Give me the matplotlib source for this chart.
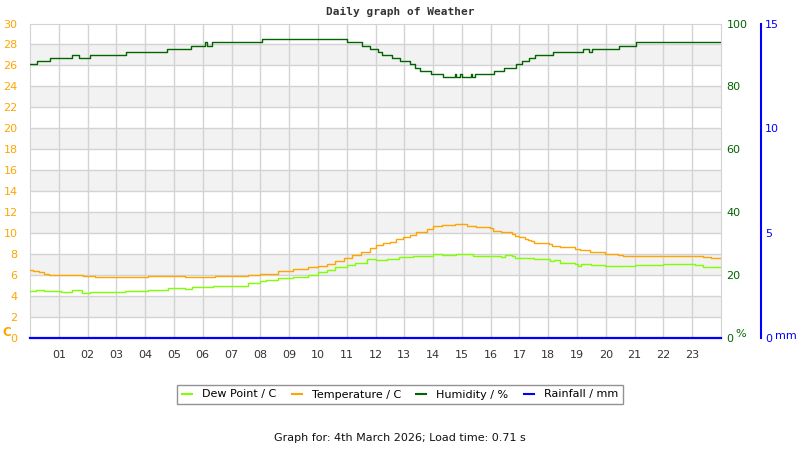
import matplotlib
matplotlib.use("Agg")
import matplotlib.pyplot as plt
from matplotlib.lines import Line2D

# ---- data (hours, values) ----
hum_t = [0, 0.26, 0.68, 1.46, 1.71, 2.09, 3.34, 4.77, 5.58, 6.08, 6.15, 6.33, 8.05,
         11.0, 11.52, 11.8, 12.07, 12.23, 12.56, 12.84, 13.19, 13.37, 13.54, 13.94,
         14.35, 14.75, 14.8, 14.95, 15.0, 15.3, 15.35, 15.44, 16.11, 16.48, 16.89,
         17.1, 17.33, 17.55, 18.17, 19.19, 19.43, 19.53, 20.45, 21.05, 24]
hum_v = [87, 88, 89, 90, 89, 90, 91, 92, 93, 94, 93, 94, 95,
         94, 93, 92, 91, 90, 89, 88, 87, 86, 85, 84,
         83, 84, 83, 84, 83, 84, 83, 84, 85, 86, 87,
         88, 89, 90, 91, 92, 91, 92, 93, 94, 94]

temp_t = [0, 0.1, 0.3, 0.47, 0.65, 1.07, 1.84, 2.27, 4.11, 5.39, 6.43, 7.24, 7.58, 7.99,
          8.62, 9.14, 9.66, 10.0, 10.3, 10.6, 10.9, 11.2, 11.5, 11.8, 12.03, 12.26, 12.5,
          12.7, 12.95, 13.2, 13.4, 13.8, 14.0, 14.3, 14.75, 15.17, 15.5, 15.96, 16.07,
          16.35, 16.73, 16.85, 17.0, 17.2, 17.3, 17.4, 17.5, 18.04, 18.12, 18.4, 18.93,
          19.1, 19.45, 19.97, 20.43, 20.6, 21.4, 21.87, 23.08, 23.37, 23.65, 24]
temp_v = [6.5, 6.4, 6.3, 6.15, 6.05, 6.0, 5.9, 5.8, 5.9, 5.8, 5.9, 5.95, 6.05, 6.15,
          6.4, 6.6, 6.8, 6.9, 7.1, 7.3, 7.65, 7.9, 8.2, 8.6, 8.9, 9.05, 9.15,
          9.4, 9.6, 9.8, 10.1, 10.4, 10.7, 10.75, 10.85, 10.7, 10.55, 10.45, 10.2,
          10.1, 9.9, 9.7, 9.6, 9.45, 9.35, 9.25, 9.1, 8.95, 8.8, 8.65, 8.5,
          8.4, 8.2, 8.05, 7.95, 7.85, 7.8, 7.85, 7.8, 7.7, 7.6, 7.6]

dew_t = [0, 0.2, 0.47, 1.07, 1.46, 1.8, 2.09, 3.3, 4.11, 4.81, 5.39, 5.62, 6.08, 6.37,
         7.35, 7.58, 7.99, 8.2, 8.62, 9.14, 9.66, 10.0, 10.3, 10.6, 11.0, 11.3, 11.7,
         12.03, 12.4, 12.8, 13.3, 14.0, 14.3, 14.8, 15.0, 15.4, 16.0, 16.35, 16.5, 16.73,
         16.85, 17.1, 17.5, 18.06, 18.2, 18.4, 18.93, 19.05, 19.15, 19.5, 19.97, 21.0,
         21.64, 22.0, 23.08, 23.37, 24]
dew_v = [4.5, 4.55, 4.45, 4.35, 4.55, 4.25, 4.35, 4.45, 4.55, 4.73, 4.64, 4.83, 4.9, 4.95,
         5.0, 5.2, 5.4, 5.5, 5.68, 5.84, 6.0, 6.25, 6.48, 6.73, 6.95, 7.2, 7.49,
         7.43, 7.49, 7.68, 7.8, 7.97, 7.9, 8.05, 8.0, 7.84, 7.8, 7.68, 7.87, 7.8,
         7.62, 7.59, 7.49, 7.3, 7.4, 7.2, 7.1, 6.9, 7.1, 6.92, 6.85, 7.0,
         6.92, 7.02, 6.92, 6.76, 6.76]

rain_t = [0, 24]
rain_v = [0, 0]

hour_labels = ["%02d" % h for h in range(1, 24)]
temp_ticks = list(range(0, 31, 2))
hum_ticks = [0, 20, 40, 60, 80, 100]
rain_ticks = [0, 5, 10, 15]

# ---- colours ----
C_TEMP = "#FFA500"
C_DEW = "#7FFF00"
C_HUM = "#006400"
C_RAIN = "#0000FF"
C_GRID = "#D3D3D3"
C_BAND = "#F2F2F2"

plt.rcParams['font.family'] = ['DejaVu Sans']
fig = plt.figure(figsize=(8, 4.5), dpi=100)
L, R, B, T = 30/800, 721/800, (450-338)/450, (450-23.5)/450
ax = fig.add_axes([L, B, R-L, T-B])
ax.set_xlim(0, 24)
ax.set_ylim(0, 30)

# bands
for lo in range(2, 30, 4):
    ax.axhspan(lo, lo+2, color=C_BAND, zorder=0, lw=0)
for y in temp_ticks[1:-1]:
    ax.axhline(y, color=C_GRID, lw=1, zorder=1)
for h in range(1, 24):
    ax.axvline(h, color=C_GRID, lw=1, zorder=1)
for s in ax.spines.values():
    s.set_color(C_GRID)

ax.set_xticks(range(1, 24))
ax.set_xticklabels(hour_labels, fontsize=8, color="#333333")
ax.set_yticks(temp_ticks)
ax.set_yticklabels([str(v) for v in temp_ticks], fontsize=8, color=C_TEMP)
ax.tick_params(axis='both', length=0)
ax.tick_params(axis='x', pad=9)
ax.tick_params(axis='y', pad=9)

hax = ax.twinx()
hax.set_ylim(0, 100)
hax.set_yticks(hum_ticks)
hax.set_yticklabels([str(v) for v in hum_ticks], fontsize=8, color=C_HUM)
hax.tick_params(axis='y', length=0, pad=4)
for s in hax.spines.values():
    s.set_visible(False)

rax = ax.twinx()
rax.set_ylim(0, 15)
rax.spines['right'].set_position(('outward', 28.8))
for k in ['left', 'top', 'bottom']:
    rax.spines[k].set_visible(False)
rax.spines['right'].set_color(C_RAIN)
rax.spines['right'].set_linewidth(1.5)
rax.set_yticks(rain_ticks)
rax.set_yticklabels([str(v) for v in rain_ticks], fontsize=8, color=C_RAIN)
rax.tick_params(axis='y', length=0, pad=3)

# series
hax.plot(hum_t, hum_v, drawstyle='steps-post', color=C_HUM, lw=1.0, zorder=3)
ax.plot(temp_t, temp_v, drawstyle='steps-post', color=C_TEMP, lw=1.0, zorder=3)
ax.plot(dew_t, dew_v, drawstyle='steps-post', color=C_DEW, lw=1.0, zorder=3)
rax.plot(rain_t, rain_v, color=C_RAIN, lw=1.6, zorder=4, clip_on=False)

# axis unit labels
fig.text(2/800, 1-333/450, "C", color=C_TEMP, fontsize=8.5, fontweight='bold', va='center')
fig.text(735/800, 1-334/450, "%", color=C_HUM, fontsize=8, va='center')
fig.text(775/800, 1-336/450, "mm", color=C_RAIN, fontsize=8, va='center')

fig.text(0.5, 1-12/450, "Daily graph of Weather", ha='center', va='center',
         family='DejaVu Sans Mono', fontweight='bold', fontsize=8, color="#333333")

handles = [Line2D([], [], color=C_DEW, lw=1.5),
           Line2D([], [], color=C_TEMP, lw=1.5),
           Line2D([], [], color=C_HUM, lw=1.5),
           Line2D([], [], color=C_RAIN, lw=1.5)]
labels = ["Dew Point / C", "Temperature / C", "Humidity / %", "Rainfall / mm"]
leg = fig.legend(handles, labels, loc='center', bbox_to_anchor=(0.5, 1-394.5/450),
                 ncol=4, fontsize=8, frameon=True, fancybox=False, handlelength=0.9,
                 columnspacing=1.4, handletextpad=0.9, borderpad=0.4)
leg.get_frame().set_edgecolor("#777777")
leg.get_frame().set_linewidth(1)

fig.text(0.5, 1-438/450, "Graph for: 4th March 2026; Load time: 0.71 s",
         ha='center', va='center', fontsize=8, color="#111111")

fig.savefig("out.png", dpi=100)
